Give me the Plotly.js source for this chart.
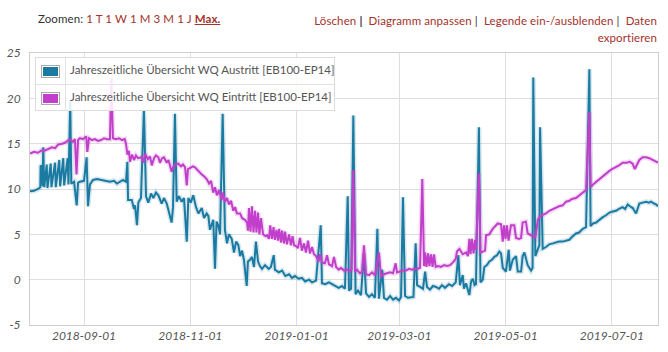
<!DOCTYPE html>
<html>
<head>
<meta charset="utf-8">
<script src="https://cdn.plot.ly/plotly-3.0.1.min.js"></script>
<style>
  body { margin:0; background:#fff; }
  #wrap { position:relative; width:668px; height:352px; overflow:hidden; font-family: Lato, "Open Sans", sans-serif; }
  #chart { position:absolute; left:0; top:0; width:668px; height:352px; }
  .bar { position:absolute; font-size:11.5px; color:#333; white-space:nowrap; letter-spacing:0.1px; }
  .lnk { color:#a3322c; }
  #legend { position:absolute; left:35px; top:57px; width:300px; height:54px; background:rgba(255,255,255,0.88);
            border:1px solid #dcdcdc; box-sizing:border-box; font-size:11.5px; color:#555; }
  .row { position:absolute; left:0; width:298px; height:26px; }
  .sw { position:absolute; left:5px; top:7px; width:17px; height:11px; border:1px solid #aaa; box-shadow: inset 0 0 0 1px #fff; }
  .sep { position:absolute; left:29px; top:0; width:1px; height:100%; background:#e2e2e2; }
  .txt { position:absolute; left:34px; top:5px; white-space:nowrap; }
</style>
</head>
<body>
<div id="wrap">
  <div id="chart"></div>
  <div class="bar" style="left:38px; top:12px;">Zoomen:&nbsp;<span class="lnk">1 T 1 W 1 M 3 M 1 J</span>&nbsp;<span class="lnk" style="text-decoration:underline; font-weight:bold;">Max.</span></div>
  <div class="bar" style="right:11px; top:12px; text-align:right; line-height:17px;">
    <span class="lnk">Löschen</span>&nbsp;<b>|</b>&nbsp;&nbsp;<span class="lnk">Diagramm anpassen</span>&nbsp;|&nbsp;&nbsp;<span class="lnk">Legende ein-/ausblenden</span>&nbsp;|&nbsp;&nbsp;<span class="lnk">Daten</span><br><span class="lnk">exportieren</span>
  </div>
  <div id="legend">
    <div class="row" style="top:0; border-bottom:1px solid #e2e2e2;">
      <div class="sw" id="sw0"></div><div class="sep"></div><div class="txt" id="lt0"></div>
    </div>
    <div class="row" style="top:27px;">
      <div class="sw" id="sw1"></div><div class="sep"></div><div class="txt" id="lt1"></div>
    </div>
  </div>
</div>
<script>
// Series names
const seriesNames = [
  "Jahreszeitliche Übersicht WQ Austritt [EB100-EP14]",
  "Jahreszeitliche Übersicht WQ Eintritt [EB100-EP14]"
];
const seriesColors = ["#1a7aa2", "#c13fca"];
const startDate = "2018-08-01";

// Austritt: time in days since 2018-08-01, value
const austrittDay = [0.0,2.3,4.6,5.9,6.1,6.7,7.2,7.6,8.2,9.6,10.0,11.9,12.3,14.4,14.8,16.8,17.3,19.1,19.6,21.6,22.1,23.1,23.7,25.3,26.8,27.6,28.7,31.0,32.5,33.3,34.4,36.2,38.5,40.2,43.1,45.9,48.2,49.9,51.7,53.4,55.1,55.9,56.3,58.4,59.7,60.3,61.4,62.2,63.7,65.4,66.6,67.9,69.5,70.8,72.3,73.7,75.6,76.9,78.5,79.8,81.3,82.1,83.2,84.2,85.5,87.1,88.4,90.0,90.9,92.3,93.7,95.3,96.7,98.6,99.9,101.4,102.4,103.3,105.2,106.2,107.1,108.1,109.1,110.6,111.9,113.1,114.2,115.8,117.1,118.3,119.6,120.6,121.7,122.8,124.4,125.1,126.3,127.4,128.6,129.7,130.9,132.0,133.2,134.9,137.0,138.3,139.9,140.6,142.8,144.7,146.6,148.7,150.4,152.1,154.2,156.1,158.0,160.2,161.9,164.2,166.9,167.6,169.5,171.6,173.4,175.1,177.2,179.1,180.8,182.4,183.1,184.3,185.6,186.9,188.3,190.0,191.7,192.9,194.6,196.3,198.0,199.4,200.3,202.2,203.2,204.9,206.7,208.4,210.1,211.8,213.0,214.1,215.3,217.0,218.7,220.1,221.4,222.2,223.9,225.6,226.8,227.9,229.6,231.3,233.1,234.8,236.5,238.2,240.5,242.3,244.4,245.9,246.8,248.4,249.1,250.3,252.2,253.2,254.2,255.2,256.0,257.7,258.6,259.9,260.8,262.3,263.7,265.2,266.5,268.1,269.4,270.4,271.4,273.2,274.8,275.5,277.1,279.0,280.0,281.9,282.8,283.8,285.7,287.6,288.5,288.9,290.1,291.3,292.4,292.8,294.3,296.2,298.1,300.2,302.0,303.7,305.8,307.7,309.6,311.1,313.4,315.2,317.3,319.2,321.1,321.8,323.2,325.0,326.6,328.8,330.7,332.6,334.1,336.4,338.1,340.2,341.6,343.1,344.4,346.0,347.9,349.8,351.7,353.7,355.3,356.5,358.2,359.4,360.5];
const austrittWert = [9.75,9.8,10.0,10.2,12.5,12.6,10.3,14.6,10.2,12.7,10.1,12.8,10.2,12.9,10.2,13.2,10.3,13.4,10.4,13.4,10.5,19.8,10.6,10.8,8.2,10.7,10.8,10.9,13.5,8.1,10.5,11.0,11.1,11.0,10.9,10.8,10.9,10.6,10.8,11.0,10.8,13.0,8.8,8.8,7.8,8.2,6.0,8.5,9.0,18.8,9.2,8.5,9.5,9.0,9.6,9.3,8.4,9.0,8.4,7.5,6.3,8.0,18.3,8.6,9.2,8.6,9.0,4.2,9.0,8.5,9.3,8.0,7.3,7.9,6.8,7.3,7.0,5.5,6.6,1.2,6.4,6.0,5.0,18.3,5.5,4.0,5.0,4.5,3.0,4.2,3.8,2.6,3.2,2.2,-0.7,2.0,2.2,2.5,1.4,4.2,2.0,1.5,1.2,1.6,1.2,1.4,2.7,1.1,0.8,1.0,0.4,0.6,0.2,0.4,0.1,0.2,-0.2,0.0,-0.3,-0.1,6.0,-0.4,-0.5,-0.3,-0.5,-0.7,-0.9,-0.7,-1.0,9.2,-1.2,-1.0,18.1,-1.6,-1.2,-1.7,2.9,-1.5,-1.9,-1.6,-2.0,5.6,-2.1,1.1,-2.0,-2.2,-1.8,-2.2,-2.0,-2.3,-1.9,9.1,-1.8,-2.0,-1.9,-1.9,4.0,-0.6,-0.8,-1.0,0.9,-0.8,-1.1,-0.7,-0.8,-1.0,-0.6,-0.9,-0.5,-0.7,-0.3,2.7,-0.6,0.5,-1.0,-0.4,-1.7,-0.2,0.1,-0.6,-0.5,16.8,-0.3,0.0,1.4,1.6,2.0,2.2,2.5,2.7,3.1,2.9,1.3,0.9,3.3,1.0,2.2,2.6,0.9,0.9,2.6,3.0,1.6,1.0,1.3,22.3,2.6,3.2,3.8,16.8,3.4,3.6,3.9,4.0,4.1,4.2,4.2,4.3,4.4,4.7,5.1,5.2,5.6,5.8,23.2,5.9,6.2,6.3,6.6,6.9,7.1,7.4,7.5,7.6,7.8,8.0,7.8,8.3,8.1,7.9,7.3,8.4,8.5,8.6,8.5,8.6,8.4,8.3,8.1];

// Eintritt: time in days since 2018-08-01, value
const eintrittDay = [0.0,2.3,4.6,6.5,8.0,10.3,12.6,14.4,16.1,18.4,20.1,21.8,23.5,24.7,25.8,26.7,27.6,28.7,30.4,32.3,32.9,33.9,35.6,37.3,39.0,40.8,42.5,44.2,45.9,46.7,47.6,49.4,51.1,52.8,54.4,55.1,55.9,56.8,57.4,58.6,59.7,60.8,62.0,64.1,65.3,66.0,67.7,68.9,69.9,71.2,72.3,73.7,74.6,75.8,76.9,78.5,79.5,81.3,82.1,83.2,85.1,86.7,87.8,89.0,90.0,90.7,91.8,93.6,94.7,96.4,98.6,99.9,101.4,102.8,103.9,105.2,106.2,107.3,108.5,110.0,110.8,111.9,113.1,114.2,115.4,116.7,117.7,118.8,120.6,121.7,123.4,124.6,125.1,125.7,126.6,127.4,128.3,129.2,130.0,130.9,131.7,132.6,133.8,135.1,136.1,137.2,137.9,138.9,139.8,140.6,141.5,142.4,143.0,144.1,144.7,145.8,146.4,147.5,148.7,149.8,150.7,151.6,152.7,153.8,155.0,156.1,157.3,158.4,159.6,160.7,161.9,163.0,164.2,165.7,166.5,167.6,169.3,170.5,171.6,173.4,174.5,175.7,177.2,178.5,180.3,182.0,183.7,184.6,185.6,186.6,187.7,189.4,190.6,191.7,192.9,194.6,196.3,198.0,200.3,201.5,203.2,204.9,206.7,208.4,209.9,210.7,212.4,214.1,215.8,217.6,219.3,221.0,222.7,223.9,225.2,226.2,226.8,227.6,228.5,229.3,230.2,231.1,231.9,232.9,234.2,235.9,237.7,239.4,241.1,242.8,244.4,245.1,246.5,248.4,250.3,251.4,252.2,252.9,253.7,254.6,255.5,256.0,257.7,258.6,259.9,261.2,261.8,263.7,265.6,266.9,268.5,270.4,271.4,272.1,273.0,273.8,274.7,276.1,278.0,279.0,280.7,281.9,282.8,284.7,285.7,287.6,288.9,290.1,291.5,292.8,294.3,296.2,298.1,300.2,302.0,303.7,305.8,307.7,309.6,311.1,313.4,315.2,317.3,319.2,321.1,321.8,323.2,325.0,326.6,328.8,330.7,332.6,334.1,336.4,338.1,340.2,342.4,344.3,345.9,347.2,348.8,349.8,351.7,353.7,355.5,357.3,359.4,360.5];
const eintrittWert = [13.9,14.1,14.0,14.25,14.2,14.4,14.6,14.5,14.9,15.0,15.1,15.35,15.4,15.2,15.5,11.6,15.4,15.6,15.5,15.8,14.1,15.6,15.4,15.5,15.3,15.4,15.6,15.5,15.5,22.2,15.6,15.5,15.6,15.4,15.5,15.0,13.8,14.2,13.0,13.8,13.2,13.7,13.4,13.5,12.9,13.9,13.3,13.6,12.6,13.4,13.7,13.5,12.9,13.4,13.5,12.9,13.2,11.9,12.4,12.7,12.8,12.5,12.7,12.4,10.4,12.2,12.3,12.5,12.4,12.0,11.6,11.4,11.1,10.6,10.9,9.6,10.2,9.3,9.9,8.8,9.6,8.6,9.0,8.3,8.7,7.6,8.0,7.3,7.3,6.8,6.6,6.3,5.4,7.9,5.3,8.1,5.2,7.6,5.2,7.4,5.0,6.8,5.0,4.8,4.9,4.5,6.0,4.5,5.8,4.4,5.5,4.3,5.6,4.1,5.4,4.0,5.3,3.9,5.0,3.8,4.8,3.8,3.7,3.5,4.6,3.2,4.0,3.0,4.3,2.9,3.6,2.8,2.6,2.0,2.8,1.9,1.8,2.7,1.7,1.5,2.5,1.4,1.1,1.3,1.0,1.1,0.9,1.1,12.1,0.9,1.1,0.7,0.9,3.8,0.6,0.5,0.8,0.5,3.0,0.4,0.6,0.7,0.8,0.7,1.8,0.8,0.9,1.0,1.0,1.2,1.1,1.2,1.2,1.3,11.1,1.5,3.0,1.4,2.9,1.5,2.8,1.4,2.8,1.4,1.5,1.4,1.6,1.5,1.6,1.9,2.3,3.1,3.4,2.8,3.0,2.6,4.5,2.8,4.5,2.9,4.4,3.3,11.7,3.0,3.1,3.2,4.9,5.0,5.6,5.9,6.2,6.1,4.2,6.0,4.5,6.0,4.3,6.0,6.0,4.6,4.5,4.6,6.3,6.4,5.1,4.9,4.8,4.6,6.6,7.0,7.1,7.3,7.6,7.8,8.0,8.1,8.2,8.6,8.7,8.9,9.0,9.3,9.6,9.9,18.5,10.2,10.5,10.8,11.1,11.4,11.7,12.0,12.2,12.4,12.6,12.9,12.9,13.0,12.8,12.2,12.9,13.2,13.5,13.5,13.4,13.2,13.0,12.9];

// Axis ticks
const xTickVals = ["2018-09-01","2018-11-01","2019-01-01","2019-03-01","2019-05-01","2019-07-01"];
const xTickText = ["2018-09-01","2018-11-01","2019-01-01","2019-03-01","2019-05-01","2019-07-01"];
const yTickVals = [-5,0,5,10,15,20,25];
const xRange = ["2018-08-01 00:00", "2019-07-27 12:00"];

function toDate(d) {
  const t = new Date(Date.UTC(2018,7,1) + d*86400000).toISOString();
  return t.slice(0,19).replace('T',' ');
}
const xA = austrittDay.map(toDate);
const xE = eintrittDay.map(toDate);

function rgba(hex, a) {
  const n = parseInt(hex.slice(1),16);
  return `rgba(${(n>>16)&255},${(n>>8)&255},${n&255},${a})`;
}

const traces = [
  {x:xA, y:austrittWert, type:'scatter', mode:'lines', hoverinfo:'skip', showlegend:false,
   line:{color:rgba(seriesColors[0],0.18), width:5}},
  {x:xA, y:austrittWert, type:'scatter', mode:'lines', name:seriesNames[0], showlegend:false,
   line:{color:seriesColors[0], width:2}},
  {x:xE, y:eintrittWert, type:'scatter', mode:'lines', hoverinfo:'skip', showlegend:false,
   line:{color:rgba(seriesColors[1],0.18), width:5}},
  {x:xE, y:eintrittWert, type:'scatter', mode:'lines', name:seriesNames[1], showlegend:false,
   line:{color:seriesColors[1], width:2}}
];

const tickFont = {family:'Lato, "Open Sans", sans-serif', size:12, color:'#555', style:'italic'};
const layout = {
  width:668, height:352,
  margin:{l:30, r:10, t:52.5, b:27, pad:0},
  paper_bgcolor:'rgba(0,0,0,0)', plot_bgcolor:'#fff',
  showlegend:false,
  xaxis:{type:'date', range:xRange, tickmode:'array', tickvals:xTickVals, ticktext:xTickText,
         showgrid:true, gridcolor:'#dedede', gridwidth:1, zeroline:false,
         showline:true, linecolor:'#cfcfcf', linewidth:1, mirror:true, ticks:'', tickfont:tickFont},
  yaxis:{range:[-5,25], tickmode:'array', tickvals:yTickVals, ticktext:yTickVals.map(String),
         showgrid:true, gridcolor:'#dedede', gridwidth:1, zeroline:false,
         showline:true, linecolor:'#cfcfcf', linewidth:1, mirror:true, ticks:'', tickfont:tickFont,
         ticklabelstandoff:6}
};

Plotly.newPlot('chart', traces, layout, {displayModeBar:false, staticPlot:true});

document.getElementById('sw0').style.background = seriesColors[0];
document.getElementById('sw1').style.background = seriesColors[1];
document.getElementById('lt0').textContent = seriesNames[0];
document.getElementById('lt1').textContent = seriesNames[1];
</script>
</body>
</html>
